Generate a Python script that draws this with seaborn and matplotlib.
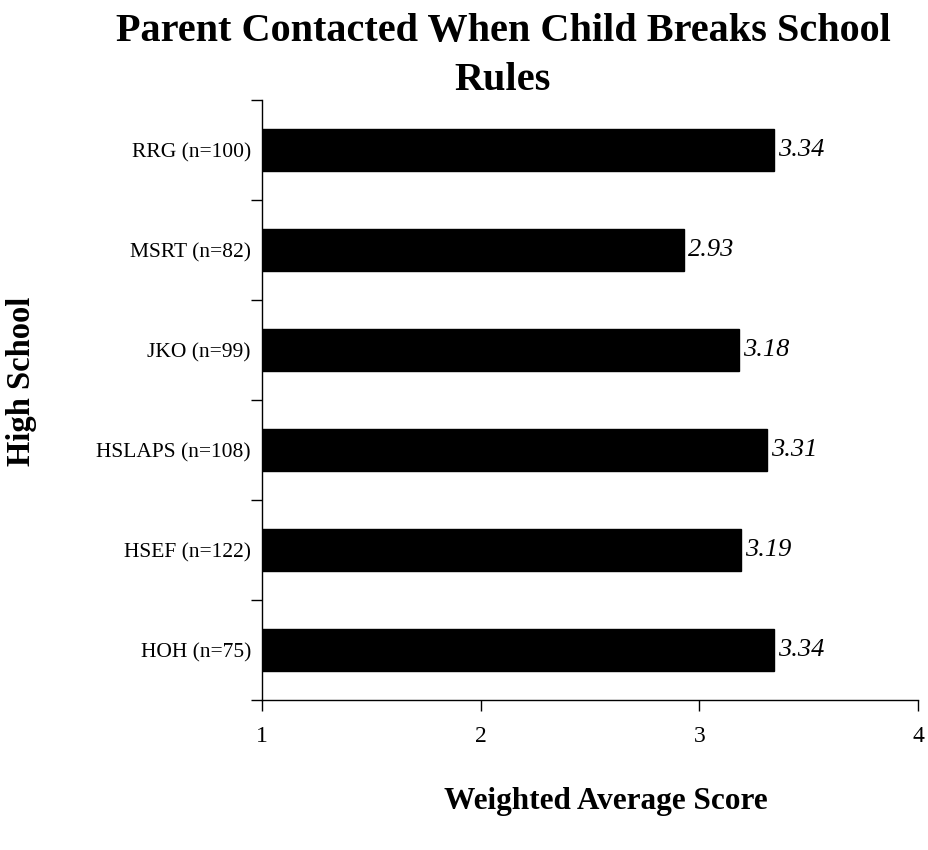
import numpy as np
import pandas as pd
import matplotlib
matplotlib.use("Agg")
import matplotlib.pyplot as plt
import seaborn as sns

# data
schools = ["RRG (n=100)", "MSRT (n=82)", "JKO (n=99)",
           "HSLAPS (n=108)", "HSEF (n=122)", "HOH (n=75)"]
scores = [3.34, 2.93, 3.18, 3.31, 3.19, 3.34]
x_ticks = [1, 2, 3, 4]

df = pd.DataFrame({"school": schools, "score": scores})

sns.set_style("white")
plt.rcParams["font.family"] = ["Liberation Serif", "DejaVu Serif"]
plt.rcParams["text.color"] = "black"
plt.rcParams["xtick.color"] = "black"
plt.rcParams["ytick.color"] = "black"

fig = plt.figure(figsize=(9.29, 8.5), dpi=100)
ax = fig.add_axes([262 / 929, 1 - 700 / 850, (918 - 262) / 929, 600 / 850])

sns.barplot(data=df, x="score", y="school", orient="h", color="black",
            width=0.42, saturation=1, ax=ax, edgecolor="black")

ax.set_xlim(1, 4)
ax.set_ylim(len(schools) - 0.5, -0.5)
ax.set_xticks(x_ticks)
ax.set_xticklabels([str(t) for t in x_ticks], fontsize=17)
ax.tick_params(axis="x", bottom=True, direction="out", length=8, width=1,
               pad=11, color="black", labelcolor="black")

# labels at bar centres, tick marks at category boundaries
ax.set_yticks(range(len(schools)))
ax.set_yticklabels(schools, fontsize=15.5)
ax.tick_params(axis="y", which="major", left=True, length=0, pad=8, labelcolor="black")
ax.set_yticks(np.arange(-0.5, len(schools), 1), minor=True)
ax.tick_params(axis="y", which="minor", left=True, direction="out", length=8,
               width=1, color="black")

for side in ["top", "right"]:
    ax.spines[side].set_visible(False)
for side in ["left", "bottom"]:
    ax.spines[side].set_color("black")
    ax.spines[side].set_linewidth(1)

for i, v in enumerate(scores):
    ax.text(v + 0.02, i, f"{v:.2f}", va="center", ha="left",
            fontsize=19, style="italic", color="black")

ax.set_xlabel("")
ax.set_ylabel("")
fig.text(606 / 929, 1 - 802 / 850, "Weighted Average Score", ha="center",
         va="center", fontsize=22.5, fontweight="bold", color="black")
fig.text(22 / 929, 1 - 381 / 850, "High School", ha="center", va="center",
         rotation=90, fontsize=23.5, fontweight="bold", color="black")
fig.text(503 / 929, 1 - 56 / 850, "Parent Contacted When Child Breaks School\nRules",
         ha="center", va="center", fontsize=29, fontweight="bold",
         linespacing=1.45, color="black")

fig.savefig("out.png", dpi=100)
